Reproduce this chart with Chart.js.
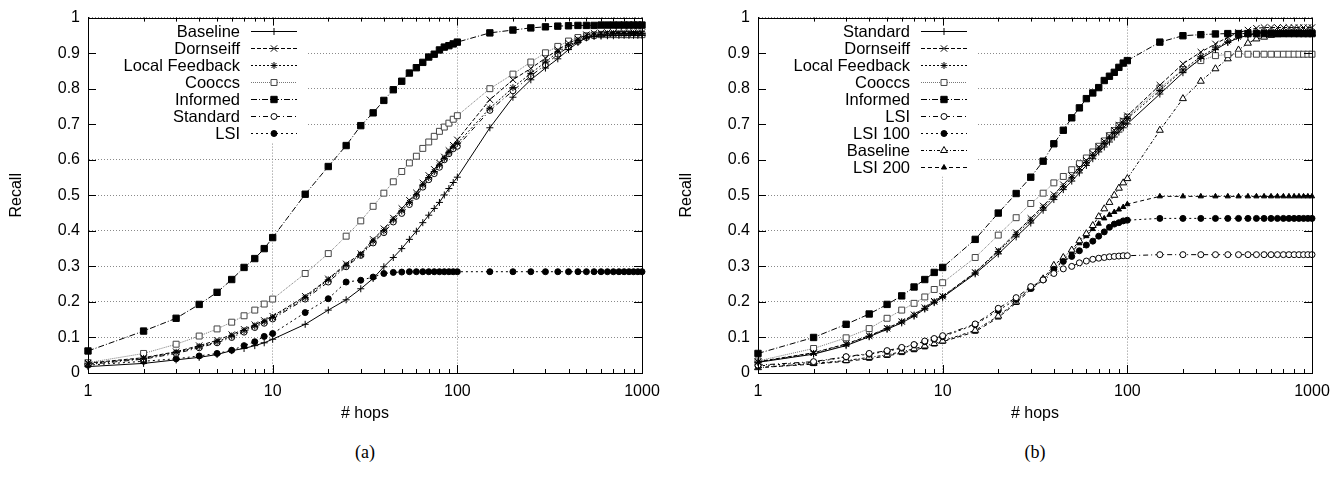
<!DOCTYPE html>
<html>
<head>
<meta charset="utf-8">
<script src="https://cdn.jsdelivr.net/npm/chart.js@4.4.1/dist/chart.umd.min.js"></script>
<style>
  html, body { margin: 0; padding: 0; background: #fff; }
  .panel { position: absolute; top: 0; width: 671px; height: 430px; }
  .caption { position: absolute; top: 442px; width: 80px; text-align: center; line-height: 20px;
             font: 18px "Liberation Serif", "DejaVu Serif", serif; color: #000; }
</style>
</head>
<body>
<div class="panel" style="left:0"><canvas id="chartA" width="671" height="430"></canvas></div>
<div class="panel" style="left:670px"><canvas id="chartB" width="671" height="430"></canvas></div>
<div class="caption" style="left:325px">(a)</div>
<div class="caption" style="left:995px">(b)</div>
<script>
// x positions (# hops), shared by every series
const hops = [1, 2, 3, 4, 5, 6, 7, 8, 9, 10,
  15, 20, 25, 30, 35, 40, 45, 50, 55, 60, 65, 70, 75, 80, 85, 90, 95, 100,
  150, 200, 250, 300, 350, 400, 450, 500, 550, 600, 650, 700, 750, 800, 850, 900, 950, 1000];

const xTickValues = [1, 10, 100, 1000];
const xTickLabels = ['1', '10', '100', '1000'];
const yTickValues = [0, 0.1, 0.2, 0.3, 0.4, 0.5, 0.6, 0.7, 0.8, 0.9, 1];
const yTickLabels = ['0', '0.1', '0.2', '0.3', '0.4', '0.5', '0.6', '0.7', '0.8', '0.9', '1'];

// ---- panel (a) ----
const baselineA = [0.018, 0.027, 0.037, 0.044, 0.052, 0.063, 0.069, 0.077, 0.085, 0.095,
  0.137, 0.177, 0.206, 0.237, 0.266, 0.299, 0.325, 0.350, 0.376, 0.399, 0.423, 0.444, 0.463, 0.480, 0.501, 0.519, 0.536, 0.551,
  0.690, 0.776, 0.825, 0.858, 0.884, 0.910, 0.930, 0.943, 0.947, 0.948, 0.949, 0.949, 0.950, 0.950, 0.950, 0.950, 0.950, 0.950];
const dornseiffA = [0.028, 0.043, 0.060, 0.077, 0.092, 0.108, 0.123, 0.136, 0.148, 0.160,
  0.216, 0.265, 0.307, 0.336, 0.376, 0.406, 0.436, 0.463, 0.486, 0.507, 0.535, 0.556, 0.573, 0.591, 0.608, 0.626, 0.641, 0.656,
  0.769, 0.825, 0.857, 0.886, 0.909, 0.928, 0.940, 0.952, 0.956, 0.957, 0.958, 0.958, 0.958, 0.958, 0.958, 0.958, 0.958, 0.958];
const feedbackA = [0.026, 0.041, 0.058, 0.074, 0.088, 0.104, 0.119, 0.132, 0.144, 0.156,
  0.212, 0.262, 0.303, 0.333, 0.371, 0.400, 0.431, 0.456, 0.480, 0.501, 0.529, 0.550, 0.567, 0.585, 0.604, 0.621, 0.636, 0.646,
  0.745, 0.803, 0.843, 0.875, 0.903, 0.921, 0.936, 0.946, 0.951, 0.953, 0.954, 0.955, 0.955, 0.955, 0.955, 0.955, 0.955, 0.955];
const cooccsA = [0.029, 0.055, 0.081, 0.104, 0.124, 0.143, 0.161, 0.177, 0.194, 0.208,
  0.280, 0.336, 0.385, 0.428, 0.469, 0.506, 0.538, 0.567, 0.591, 0.610, 0.632, 0.650, 0.666, 0.680, 0.692, 0.703, 0.714, 0.724,
  0.800, 0.841, 0.875, 0.901, 0.919, 0.934, 0.944, 0.949, 0.951, 0.952, 0.952, 0.952, 0.952, 0.952, 0.952, 0.952, 0.952, 0.952];
const informedA = [0.062, 0.118, 0.154, 0.193, 0.227, 0.263, 0.297, 0.322, 0.350, 0.381,
  0.503, 0.581, 0.640, 0.696, 0.732, 0.767, 0.797, 0.821, 0.844, 0.859, 0.874, 0.889, 0.897, 0.909, 0.917, 0.921, 0.926, 0.931,
  0.957, 0.965, 0.971, 0.974, 0.976, 0.977, 0.978, 0.978, 0.978, 0.979, 0.979, 0.979, 0.979, 0.979, 0.979, 0.979, 0.979, 0.979];
const standardA = [0.024, 0.039, 0.055, 0.071, 0.085, 0.100, 0.115, 0.128, 0.140, 0.152,
  0.208, 0.256, 0.299, 0.331, 0.366, 0.395, 0.425, 0.449, 0.474, 0.497, 0.523, 0.544, 0.561, 0.579, 0.600, 0.617, 0.631, 0.638,
  0.739, 0.794, 0.836, 0.867, 0.897, 0.917, 0.933, 0.944, 0.949, 0.951, 0.952, 0.953, 0.953, 0.953, 0.953, 0.953, 0.953, 0.953];
const lsiA = [0.022, 0.033, 0.040, 0.048, 0.055, 0.064, 0.077, 0.088, 0.103, 0.111,
  0.170, 0.209, 0.256, 0.261, 0.270, 0.280, 0.283, 0.284, 0.285, 0.285, 0.285, 0.285, 0.285, 0.285, 0.285, 0.285, 0.285, 0.285,
  0.285, 0.285, 0.285, 0.285, 0.285, 0.285, 0.285, 0.285, 0.285, 0.285, 0.285, 0.285, 0.285, 0.285, 0.285, 0.285, 0.285, 0.285];

// ---- panel (b) ----
const standardB = [0.030, 0.053, 0.077, 0.102, 0.123, 0.141, 0.160, 0.180, 0.198, 0.213,
  0.279, 0.335, 0.383, 0.422, 0.458, 0.488, 0.516, 0.540, 0.563, 0.584, 0.603, 0.622, 0.636, 0.650, 0.664, 0.678, 0.690, 0.701,
  0.785, 0.845, 0.885, 0.910, 0.930, 0.943, 0.950, 0.955, 0.957, 0.957, 0.957, 0.957, 0.957, 0.957, 0.957, 0.957, 0.957, 0.957];
const dornseiffB = [0.032, 0.057, 0.082, 0.105, 0.126, 0.145, 0.164, 0.184, 0.202, 0.216,
  0.283, 0.345, 0.395, 0.435, 0.470, 0.502, 0.530, 0.555, 0.578, 0.598, 0.618, 0.636, 0.652, 0.667, 0.683, 0.697, 0.710, 0.724,
  0.810, 0.870, 0.903, 0.926, 0.945, 0.958, 0.965, 0.970, 0.972, 0.972, 0.972, 0.972, 0.972, 0.972, 0.972, 0.972, 0.972, 0.972];
const feedbackB = [0.031, 0.055, 0.080, 0.104, 0.125, 0.144, 0.163, 0.182, 0.200, 0.215,
  0.282, 0.342, 0.390, 0.430, 0.465, 0.496, 0.524, 0.549, 0.572, 0.592, 0.612, 0.630, 0.646, 0.661, 0.676, 0.690, 0.703, 0.716,
  0.795, 0.853, 0.890, 0.915, 0.932, 0.945, 0.952, 0.957, 0.960, 0.960, 0.960, 0.960, 0.960, 0.960, 0.960, 0.960, 0.960, 0.960];
const cooccsB = [0.034, 0.069, 0.099, 0.125, 0.154, 0.177, 0.196, 0.214, 0.235, 0.254,
  0.325, 0.388, 0.437, 0.477, 0.506, 0.535, 0.553, 0.572, 0.589, 0.605, 0.622, 0.638, 0.653, 0.668, 0.682, 0.696, 0.708, 0.720,
  0.802, 0.854, 0.879, 0.893, 0.896, 0.897, 0.897, 0.897, 0.897, 0.897, 0.897, 0.897, 0.897, 0.897, 0.897, 0.897, 0.897, 0.897];
const informedB = [0.055, 0.100, 0.137, 0.166, 0.193, 0.217, 0.242, 0.263, 0.283, 0.297,
  0.376, 0.450, 0.505, 0.551, 0.596, 0.645, 0.683, 0.718, 0.746, 0.772, 0.788, 0.803, 0.823, 0.835, 0.846, 0.860, 0.872, 0.879,
  0.931, 0.949, 0.952, 0.954, 0.955, 0.955, 0.955, 0.955, 0.955, 0.955, 0.955, 0.955, 0.955, 0.955, 0.955, 0.955, 0.955, 0.955];
const lsiB = [0.022, 0.032, 0.046, 0.055, 0.063, 0.072, 0.080, 0.090, 0.097, 0.105,
  0.138, 0.182, 0.212, 0.243, 0.262, 0.280, 0.293, 0.300, 0.310, 0.315, 0.320, 0.323, 0.325, 0.327, 0.328, 0.329, 0.330, 0.330,
  0.333, 0.333, 0.333, 0.333, 0.333, 0.333, 0.333, 0.333, 0.333, 0.333, 0.333, 0.333, 0.333, 0.333, 0.333, 0.333, 0.333, 0.333];
const lsi100B = [0.020, 0.030, 0.045, 0.053, 0.061, 0.070, 0.079, 0.088, 0.095, 0.102,
  0.136, 0.176, 0.207, 0.238, 0.262, 0.292, 0.314, 0.328, 0.344, 0.360, 0.371, 0.385, 0.397, 0.410, 0.419, 0.423, 0.428, 0.430,
  0.435, 0.435, 0.435, 0.435, 0.435, 0.435, 0.435, 0.435, 0.435, 0.435, 0.435, 0.435, 0.435, 0.435, 0.435, 0.435, 0.435, 0.435];
const baselineB = [0.015, 0.027, 0.035, 0.044, 0.051, 0.060, 0.068, 0.076, 0.083, 0.090,
  0.120, 0.160, 0.200, 0.240, 0.265, 0.303, 0.325, 0.346, 0.372, 0.392, 0.415, 0.440, 0.462, 0.480, 0.500, 0.520, 0.535, 0.547,
  0.683, 0.772, 0.821, 0.856, 0.884, 0.909, 0.928, 0.940, 0.945, 0.950, 0.952, 0.953, 0.954, 0.955, 0.955, 0.955, 0.955, 0.955];
const lsi200B = [0.015, 0.025, 0.033, 0.040, 0.048, 0.056, 0.064, 0.072, 0.080, 0.088,
  0.116, 0.156, 0.197, 0.235, 0.262, 0.295, 0.318, 0.340, 0.365, 0.385, 0.405, 0.420, 0.435, 0.445, 0.453, 0.460, 0.467, 0.475,
  0.497, 0.497, 0.497, 0.497, 0.497, 0.497, 0.497, 0.497, 0.497, 0.497, 0.497, 0.497, 0.497, 0.497, 0.497, 0.497, 0.497, 0.497];

const FONT = '"Liberation Sans", Arial, Helvetica, sans-serif';

// gnuplot-ish line types
const LT = {
  plus:      { borderDash: [],           pointStyle: 'cross',    pointRadius: 3.5 },
  cross:     { borderDash: [4, 2],       pointStyle: 'crossRot', pointRadius: 4.5 },
  star:      { borderDash: [2, 2],       pointStyle: 'star',     pointRadius: 3.5 },
  box:       { borderDash: [1, 1],       pointStyle: 'rect',     pointRadius: 4.2, borderColor: '#777',
               pointBorderColor: '#444', pointBackgroundColor: '#fff' },
  fbox:      { borderDash: [6, 2, 1, 2], pointStyle: 'rect',     pointRadius: 4.5 },
  circle:    { borderDash: [5, 3, 1, 3], pointStyle: 'circle',   pointRadius: 3, pointBackgroundColor: '#fff' },
  fcircle:   { borderDash: [2, 3],       pointStyle: 'circle',   pointRadius: 3 },
  triangle:  { borderDash: [3, 2, 1, 2], pointStyle: 'triangle', pointRadius: 4, pointBackgroundColor: '#fff' },
  ftriangle: { borderDash: [4, 3],       pointStyle: 'triangle', pointRadius: 3 }
};

function series(label, values, lt) {
  return Object.assign({
    label,
    data: hops.map((h, i) => ({ x: h, y: values[i] })),
    borderColor: '#000',
    borderWidth: 1,
    pointBorderColor: '#000',
    pointBackgroundColor: '#000',
    pointBorderWidth: 1,
    pointHoverRadius: 3,
    tension: 0,
    fill: false,
    clip: false
  }, lt);
}

// frame, mirrored ticks and the key, drawn the way gnuplot does it
const gnuplotFrame = {
  id: 'gnuplotFrame',
  beforeDatasetsDraw(chart) {
    const { ctx, chartArea: a } = chart;
    const n = chart.data.datasets.length;
    ctx.save();
    ctx.fillStyle = '#fff';
    ctx.fillRect(a.left + 1, a.top + 1, 218, 13.7 + (n - 1) * 16.9 + 9);
    ctx.restore();
  },
  afterDraw(chart) {
    const { ctx, chartArea: a, scales: { x, y } } = chart;
    ctx.save();
    ctx.strokeStyle = '#000';
    ctx.lineWidth = 1;
    ctx.beginPath();
    xTickValues.forEach((d, k) => {
      const p = Math.round(x.getPixelForValue(d)) + 0.5;
      ctx.moveTo(p, a.bottom); ctx.lineTo(p, a.bottom - 8);
      ctx.moveTo(p, a.top); ctx.lineTo(p, a.top + 8);
      if (k === xTickValues.length - 1) return;
      for (let m = 2; m < 10; m++) {
        const q = Math.round(x.getPixelForValue(d * m)) + 0.5;
        ctx.moveTo(q, a.bottom); ctx.lineTo(q, a.bottom - 4);
        ctx.moveTo(q, a.top); ctx.lineTo(q, a.top + 4);
      }
    });
    yTickValues.forEach(v => {
      const p = Math.round(y.getPixelForValue(v)) + 0.5;
      ctx.moveTo(a.left, p); ctx.lineTo(a.left + 8, p);
      ctx.moveTo(a.right, p); ctx.lineTo(a.right - 8, p);
    });
    ctx.stroke();
    ctx.strokeRect(Math.round(a.left) + 0.5, Math.round(a.top) + 0.5,
      Math.round(a.right - a.left), Math.round(a.bottom - a.top));

    // key
    ctx.font = '16.5px ' + FONT;
    ctx.textAlign = 'right';
    ctx.textBaseline = 'middle';
    chart.data.datasets.forEach((ds, i) => {
      const yy = Math.round(a.top + 13.7 + i * 16.9) + 0.5;
      ctx.fillStyle = '#000';
      ctx.fillText(ds.label, a.left + 152, yy + 1);
      ctx.strokeStyle = ds.borderColor;
      ctx.setLineDash(ds.borderDash);
      ctx.beginPath();
      ctx.moveTo(a.left + 163, yy);
      ctx.lineTo(a.left + 209, yy);
      ctx.stroke();
      ctx.setLineDash([]);
      ctx.fillStyle = ds.pointBackgroundColor;
      ctx.strokeStyle = ds.pointBorderColor;
      if (Chart.helpers && Chart.helpers.drawPoint) {
        Chart.helpers.drawPoint(ctx, { pointStyle: ds.pointStyle, radius: ds.pointRadius, borderWidth: 1, rotation: 0 },
          a.left + 186, yy);
      }
    });
    ctx.restore();
  }
};

function makeOptions() {
  const tickFont = { family: FONT, size: 16 };
  return {
    responsive: false,
    animation: false,
    events: [],
    layout: { padding: { top: 17, right: 29, left: 0, bottom: 0 } },
    plugins: { legend: { display: false }, tooltip: { enabled: false } },
    scales: {
      x: {
        type: 'logarithmic',
        min: 1,
        max: 1000,
        afterBuildTicks: s => { s.ticks = xTickValues.map(v => ({ value: v })); },
        afterFit: s => { s.height = 57; },
        ticks: { color: '#000', font: tickFont, padding: 9, maxRotation: 0, autoSkip: false,
                 callback: (v, i) => xTickLabels[i] },
        grid: { color: '#8a8a8a', drawTicks: false, lineWidth: 1 },
        border: { color: '#000', width: 1, dash: [1, 2] },
        title: { display: true, text: '# hops', color: '#000', font: tickFont, padding: { top: 0, bottom: 7 } }
      },
      y: {
        min: 0,
        max: 1,
        afterBuildTicks: s => { s.ticks = yTickValues.map(v => ({ value: v })); },
        afterFit: s => { s.width = 88; },
        ticks: { color: '#000', font: tickFont, padding: 8, autoSkip: false,
                 callback: (v, i) => yTickLabels[i] },
        grid: { color: '#8a8a8a', drawTicks: false, lineWidth: 1 },
        border: { color: '#000', width: 1, dash: [1, 2] },
        title: { display: true, text: 'Recall', color: '#000', font: tickFont, padding: { top: 7, bottom: 0 } }
      }
    }
  };
}

new Chart(document.getElementById('chartA'), {
  type: 'line',
  data: {
    datasets: [
      series('Baseline', baselineA, LT.plus),
      series('Dornseiff', dornseiffA, LT.cross),
      series('Local Feedback', feedbackA, LT.star),
      series('Cooccs', cooccsA, LT.box),
      series('Informed', informedA, LT.fbox),
      series('Standard', standardA, LT.circle),
      series('LSI', lsiA, LT.fcircle)
    ]
  },
  options: makeOptions(),
  plugins: [gnuplotFrame]
});

new Chart(document.getElementById('chartB'), {
  type: 'line',
  data: {
    datasets: [
      series('Standard', standardB, LT.plus),
      series('Dornseiff', dornseiffB, LT.cross),
      series('Local Feedback', feedbackB, LT.star),
      series('Cooccs', cooccsB, LT.box),
      series('Informed', informedB, LT.fbox),
      series('LSI', lsiB, LT.circle),
      series('LSI 100', lsi100B, LT.fcircle),
      series('Baseline', baselineB, LT.triangle),
      series('LSI 200', lsi200B, LT.ftriangle)
    ]
  },
  options: makeOptions(),
  plugins: [gnuplotFrame]
});
</script>
</body>
</html>
